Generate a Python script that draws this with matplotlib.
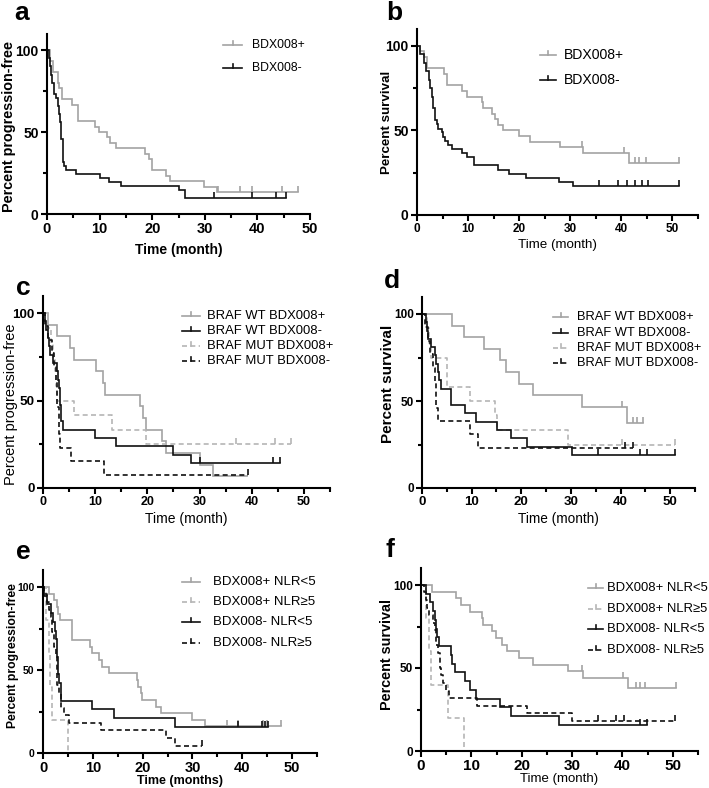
import numpy as np
import matplotlib
matplotlib.use("Agg")
import matplotlib.pyplot as plt
from matplotlib.path import Path
from matplotlib.lines import Line2D

plt.rcParams['font.family'] = ['Liberation Sans', 'DejaVu Sans']

# ---------------- data (time in months, percent) ----------------
# panel a  (progression-free)
a_pos_t = [0, 0.6, 1.1, 2.0, 2.2, 2.8, 4.7, 5.8, 9.2, 9.8, 11.4, 11.9, 13.2, 18.7, 19.3, 19.9, 22.6, 23.4, 29.9, 32.3, 47.7]
a_pos_s = [100, 93.3, 86.7, 80, 76.7, 70, 66.7, 56.7, 53.3, 50, 46.7, 43.3, 40, 36.7, 33.3, 26.7, 23.3, 20, 16.7, 13.3, 13.3]
a_pos_c = [32.5, 36.7, 39.0, 44.6, 47.7]
a_neg_t = [0, 0.3, 0.6, 0.8, 0.9, 1.3, 1.8, 2.0, 2.2, 2.5, 2.7, 3.0, 3.1, 3.2, 3.6, 5.5, 10.0, 11.7, 14.1, 25.0, 26.3, 45.4]
a_neg_s = [100, 95, 90, 85, 80, 73, 71, 66, 61, 56, 46, 37, 32, 29, 26.8, 24.4, 22, 19.5, 17.1, 14.6, 9.8, 9.8]
a_neg_c = [31.8, 39.0, 43.5, 45.4]

# panel b  (survival)
b_pos_t = [0, 0.65, 1.3, 2.0, 5.2, 5.9, 8.8, 9.8, 12.7, 13.0, 14.7, 15.3, 15.8, 16.9, 19.9, 22.2, 27.9, 32.5, 41.4, 51.2]
b_pos_s = [100, 96.7, 93.3, 86.7, 83.3, 76.7, 73.3, 70, 66.7, 63.3, 60, 56.7, 53.3, 50, 46.7, 43.3, 40, 36.7, 30.9, 30.9]
b_pos_c = [32.3, 40.6, 42.6, 43.4, 44.8, 51.2]
b_neg_t = [0, 0.65, 1.3, 1.8, 2.3, 2.6, 2.9, 3.1, 3.5, 3.9, 4.2, 4.8, 5.1, 5.5, 6.1, 6.8, 8.8, 9.8, 11.1, 15.8, 18.1, 21.3, 27.8, 30.6, 51.2]
b_neg_s = [100, 95, 90, 85, 80, 75, 70, 63, 56, 54, 51, 48.8, 46.3, 43.9, 41.5, 39, 36.6, 34.1, 29.3, 26.8, 24.4, 22, 19.5, 17.1, 17.1]
b_neg_c = [35.7, 39.4, 41.1, 42.7, 44.0, 45.3, 51.2]

# panel c  (progression-free by BRAF)
c_wtpos_t = [0, 1.0, 2.7, 5.1, 5.9, 10.2, 11.5, 11.9, 18.6, 19.1, 19.8, 22.8, 23.5, 30.0, 32.5, 39.0]
c_wtpos_s = [100, 93.3, 86.7, 80, 73.3, 66.7, 60, 53.3, 46.7, 40, 33.3, 26.7, 20, 13.3, 6.7, 6.7]
c_wtpos_c = []
c_wtneg_t = [0, 0.3, 0.6, 1.0, 1.2, 1.4, 2.0, 2.6, 2.8, 3.0, 3.2, 3.3, 3.5, 3.8, 10.0, 14.0, 25.0, 28.4, 45.4]
c_wtneg_s = [100, 95.2, 90.5, 85.7, 81, 76.2, 71.4, 66.7, 61.9, 57.1, 52.4, 47.6, 38.1, 33.3, 28.6, 23.8, 19, 14.3, 14.3]
c_wtneg_c = [30.1, 44.1, 45.4]
c_mutpos_t = [0, 1.0, 1.5, 2.0, 2.3, 2.5, 2.7, 5.9, 13.2, 19.7, 47.6]
c_mutpos_s = [100, 91.7, 83.3, 75, 66.7, 58.3, 50, 41.7, 33.3, 25, 25]
c_mutpos_c = [37.0, 44.5, 47.6]
c_mutneg_t = [0, 0.4, 1.0, 1.8, 2.2, 2.4, 2.7, 3.0, 3.3, 5.4, 11.7, 39.3]
c_mutneg_s = [100, 92.3, 84.6, 76.9, 69.2, 61.5, 46.2, 30.8, 23.1, 15.4, 7.7, 7.7]
c_mutneg_c = [39.3]

# panel d  (survival by BRAF)
d_wtpos_t = [0, 6.0, 8.4, 12.4, 15.8, 16.9, 19.6, 22.3, 32.2, 41.3, 44.6]
d_wtpos_s = [100, 93.3, 86.7, 80, 73.3, 66.7, 60, 53.3, 46.7, 37.3, 37.3]
d_wtpos_c = [40.3, 42.6, 43.3, 44.6]
d_wtneg_t = [0, 0.8, 1.0, 1.3, 1.9, 2.7, 2.9, 3.2, 3.5, 3.9, 5.9, 8.6, 10.9, 15.1, 17.9, 21.1, 30.2, 51.0]
d_wtneg_s = [100, 95.2, 90.5, 85.7, 81, 76.2, 71.4, 66.7, 61.9, 57.1, 47.6, 42.9, 38.1, 33.3, 28.6, 23.8, 19, 19]
d_wtneg_c = [35.4, 44.0, 45.3, 51.0]
d_mutpos_t = [0, 1.0, 1.5, 1.9, 5.0, 9.7, 14.8, 15.1, 29.5, 51.0]
d_mutpos_s = [100, 91.7, 83.3, 75, 58.3, 50, 41.7, 33.3, 25, 25]
d_mutpos_c = [40.3, 51.0]
d_mutneg_t = [0, 0.7, 1.2, 1.7, 2.3, 2.7, 2.9, 3.2, 9.7, 11.3, 42.6]
d_mutneg_s = [100, 92.3, 84.6, 76.9, 69.2, 61.5, 46.2, 38.5, 30.8, 23.1, 23.1]
d_mutneg_c = [40.9, 42.6]

# panel e  (progression-free by NLR)
e_poslo_t = [0, 1.3, 2.3, 2.8, 3.1, 3.5, 5.9, 9.5, 9.9, 11.3, 11.9, 13.2, 18.8, 19.0, 19.6, 19.9, 22.6, 23.6, 29.9, 32.6, 47.7]
e_poslo_s = [100, 96, 92, 88, 84, 80, 68, 64, 60, 56, 52, 48, 44, 40, 36, 32, 28, 24, 20, 16, 16]
e_poslo_c = [36.9, 39.2, 44.2, 44.9, 47.7]
e_poshi_t = [0, 0.6, 1.3, 1.5, 1.9, 5.1]
e_poshi_s = [100, 80, 60, 40, 20, 0]
e_poshi_c = []
e_neglo_t = [0, 0.3, 0.9, 1.6, 2.1, 2.4, 2.6, 2.8, 2.9, 3.0, 3.1, 3.3, 3.6, 9.9, 14.2, 26.4, 45.2]
e_neglo_s = [100, 94.7, 89.5, 84.2, 78.9, 73.7, 68.4, 63.2, 57.9, 52.6, 47.4, 42.1, 31.6, 26.3, 21.1, 15.8, 15.8]
e_neglo_c = [39.1, 43.9, 44.5, 45.2]
e_neghi_t = [0, 0.3, 0.8, 1.3, 1.6, 1.9, 2.3, 2.6, 2.9, 3.3, 3.6, 4.3, 5.3, 11.6, 24.7, 26.4, 31.9]
e_neghi_s = [100, 95.5, 90.9, 86.4, 81.8, 72.7, 63.6, 59.1, 40.9, 36.4, 27.3, 22.7, 18.2, 13.6, 9.1, 4.5, 4.5]
e_neghi_c = [31.9]

# panel f  (survival by NLR)
f_poslo_t = [0, 2.2, 7.0, 8.0, 9.8, 12.1, 12.4, 14.1, 14.8, 16.0, 17.0, 19.5, 22.3, 29.2, 32.2, 41.1, 50.7]
f_poslo_s = [100, 96, 92, 88, 84, 80, 76, 72, 68, 64, 60, 56, 52, 48, 44, 37.7, 37.7]
f_poslo_c = [31.9, 40.1, 42.7, 43.4, 44.4, 50.7]
f_poshi_t = [0, 0.9, 1.5, 2.0, 5.3, 8.6]
f_poshi_s = [100, 80, 60, 40, 20, 0]
f_poshi_c = []
f_neglo_t = [0, 1.0, 1.8, 2.3, 2.7, 3.0, 3.2, 3.5, 6.0, 6.2, 6.8, 8.8, 9.8, 10.9, 15.7, 17.9, 27.4, 44.9]
f_neglo_s = [100, 94.7, 89.5, 84.2, 78.9, 73.7, 68.4, 63.2, 57.9, 52.6, 47.4, 42.1, 36.8, 31.6, 26.3, 21.1, 15.8, 15.8]
f_neglo_c = [43.4, 44.9]
f_neghi_t = [0, 0.5, 0.9, 1.2, 1.6, 2.3, 2.7, 3.0, 3.4, 3.8, 4.0, 4.3, 4.9, 5.5, 11.1, 21.1, 30.0, 50.7]
f_neghi_s = [100, 95.5, 90.9, 86.4, 81.8, 77.3, 72.7, 63.6, 59.1, 50, 45.5, 40.9, 36.4, 31.8, 27.3, 22.7, 18.2, 18.2]
f_neghi_c = [35.2, 38.8, 40.4, 50.4]

labels_ab = ["BDX008+", "BDX008-"]
labels_cd = ["BRAF WT BDX008+", "BRAF WT BDX008-", "BRAF MUT BDX008+", "BRAF MUT BDX008-"]
labels_ef = ["BDX008+ NLR<5", "BDX008+ NLR\u22655", "BDX008- NLR<5", "BDX008- NLR\u22655"]

# ---------------- styles ----------------
W, H = 709, 788
GREY = '#a3a3a3'
BLACK = '#111111'
S_GREY = dict(color=GREY, ls='-')
S_BLACK = dict(color=BLACK, ls='-')
S_GREYD = dict(color='#b5b5b5', ls=(0, (3, 2)))
S_BLACKD = dict(color=BLACK, ls=(0, (3, 2)))
LW = 1.2
TICK = Path([(0, 0), (0, 1)], [Path.MOVETO, Path.LINETO])

fig = plt.figure(figsize=(W / 100, H / 100), dpi=100)


def fx(x):
    return x / W


def fy(y):
    return 1 - y / H


def km(ax, t, s, c, st):
    t = np.asarray(t, float)
    s = np.asarray(s, float)
    ax.step(t, s, where='post', lw=LW, color=st['color'], ls=st['ls'],
            solid_joinstyle='miter', clip_on=False)
    if len(c):
        c = np.asarray(c, float)
        idx = np.searchsorted(t, c, side='right') - 1
        ax.plot(c, s[idx], ls='none', marker=TICK, markersize=8,
                markeredgewidth=LW, color=st['color'], clip_on=False)


def make_ax(rect_px, xmax, ytick_fs, xtick_fs, ylabel, yl_fs, yl_bold, ylab_x, ylab_y,
            xlabel, xl_fs, xl_bold, xlab_y):
    l, t, r, b = rect_px
    ax = fig.add_axes([fx(l), fy(b), (r - l) / W, (b - t) / H])
    ax.set_xlim(0, xmax)
    ax.set_ylim(0, 110)
    for sp in ['top', 'right']:
        ax.spines[sp].set_visible(False)
    for sp in ['left', 'bottom']:
        ax.spines[sp].set_linewidth(1.5)
        ax.spines[sp].set_color('black')
    ax.set_yticks([0, 50, 100])
    ax.set_yticks([25, 75], minor=True)
    ax.set_xticks(np.arange(0, xmax + 0.1, 10))
    ax.set_xticks(np.arange(5, xmax + 0.1, 10), minor=True)
    ax.tick_params(which='both', direction='out', width=1.5, color='black')
    ax.tick_params(which='major', length=4, pad=2)
    ax.tick_params(which='minor', length=3)
    ax.tick_params(axis='y', labelsize=ytick_fs)
    ax.tick_params(axis='x', labelsize=xtick_fs)
    for lab in ax.get_xticklabels() + ax.get_yticklabels():
        lab.set_fontweight('bold')
    fig.text(fx(ylab_x), fy(ylab_y), ylabel, rotation=90, ha='center', va='center',
             fontsize=yl_fs, fontweight='bold' if yl_bold else 'normal')
    fig.text(fx((l + r) / 2), fy(xlab_y), xlabel, ha='center', va='center',
             fontsize=xl_fs, fontweight='bold' if xl_bold else 'normal')
    return ax


def legend(styles, labels, x0, x1, xt, ys, fs):
    for st, lab, y in zip(styles, labels, ys):
        fig.add_artist(Line2D([fx(x0), fx(x1)], [fy(y), fy(y)], transform=fig.transFigure,
                              color=st['color'], ls=st['ls'], lw=LW))
        xm = (x0 + x1) / 2
        fig.add_artist(Line2D([fx(xm), fx(xm)], [fy(y), fy(y - 4)], transform=fig.transFigure,
                              color=st['color'], lw=LW))
        fig.text(fx(xt), fy(y), lab, ha='left', va='center', fontsize=fs)


def panel_letter(ch, x, y):
    fig.text(fx(x), fy(y), ch, fontsize=19, fontweight='bold', ha='left', va='baseline')


# ---------------- panel a ----------------
ax = make_ax((47, 33.6, 310, 214), 50, 10, 10.5, "Percent progression-free", 10.4, True, 9, 126,
             "Time (month)", 10, True, 250)
km(ax, a_pos_t, a_pos_s, a_pos_c, S_GREY)
km(ax, a_neg_t, a_neg_s, a_neg_c, S_BLACK)
legend([S_GREY, S_BLACK], labels_ab, 223, 242, 252, [45, 68], 8.8)
panel_letter('a', 14, 20)

# ---------------- panel b ----------------
ax = make_ax((417, 29, 698, 215), 55, 10, 8.5, "Percent survival", 9.6, True, 387, 122,
             "Time (month)", 9.6, False, 245)
km(ax, b_pos_t, b_pos_s, b_pos_c, S_GREY)
km(ax, b_neg_t, b_neg_s, b_neg_c, S_BLACK)
legend([S_GREY, S_BLACK], labels_ab, 540, 556, 564, [55, 80], 10.1)
panel_letter('b', 386, 20)

# ---------------- panel c ----------------
ax = make_ax((43, 295.5, 330, 488), 55, 9.7, 9, "Percent progression-free", 10.5, False, 11, 404,
             "Time (month)", 10, False, 519)
km(ax, c_wtpos_t, c_wtpos_s, c_wtpos_c, S_GREY)
km(ax, c_mutpos_t, c_mutpos_s, c_mutpos_c, S_GREYD)
km(ax, c_wtneg_t, c_wtneg_s, c_wtneg_c, S_BLACK)
km(ax, c_mutneg_t, c_mutneg_s, c_mutneg_c, S_BLACKD)
legend([S_GREY, S_BLACK, S_GREYD, S_BLACKD], labels_cd, 182, 200, 207, [316, 331, 346, 361], 9.4)
panel_letter('c', 16, 295)

# ---------------- panel d ----------------
ax = make_ax((422, 296.6, 695, 488), 55, 8.5, 9.5, "Percent survival", 11, True, 388, 384,
             "Time (month)", 9.8, False, 519)
km(ax, d_wtpos_t, d_wtpos_s, d_wtpos_c, S_GREY)
km(ax, d_mutpos_t, d_mutpos_s, d_mutpos_c, S_GREYD)
km(ax, d_wtneg_t, d_wtneg_s, d_wtneg_c, S_BLACK)
km(ax, d_mutneg_t, d_mutneg_s, d_mutneg_c, S_BLACKD)
legend([S_GREY, S_BLACK, S_GREYD, S_BLACKD], labels_cd, 553, 568, 577, [317, 333, 348, 363], 9.3)
panel_letter('d', 384, 288)

# ---------------- panel e ----------------
ax = make_ax((43, 570.4, 317, 753), 55, 7.5, 10.5, "Percent progression-free", 8.7, True, 13, 656,
             "Time (months)", 9, True, 781)
km(ax, e_poslo_t, e_poslo_s, e_poslo_c, S_GREY)
km(ax, e_poshi_t, e_poshi_s, e_poshi_c, S_GREYD)
km(ax, e_neglo_t, e_neglo_s, e_neglo_c, S_BLACK)
km(ax, e_neghi_t, e_neghi_s, e_neghi_c, S_BLACKD)
legend([S_GREY, S_GREYD, S_BLACK, S_BLACKD], labels_ef, 182, 200, 213, [582, 602, 622, 643], 9.5)
panel_letter('e', 16, 559)

# ---------------- panel f ----------------
ax = make_ax((421, 568.4, 698, 751), 55, 8.5, 11, "Percent survival", 10.4, True, 387, 654,
             "Time (month)", 9.5, False, 779)
km(ax, f_poslo_t, f_poslo_s, f_poslo_c, S_GREY)
km(ax, f_poshi_t, f_poshi_s, f_poshi_c, S_GREYD)
km(ax, f_neglo_t, f_neglo_s, f_neglo_c, S_BLACK)
km(ax, f_neghi_t, f_neghi_s, f_neghi_c, S_BLACKD)
legend([S_GREY, S_GREYD, S_BLACK, S_BLACKD], labels_ef, 588, 603, 607, [588, 609, 629, 650], 9.4)
panel_letter('f', 385, 557)

fig.savefig('out.png', dpi=100)
